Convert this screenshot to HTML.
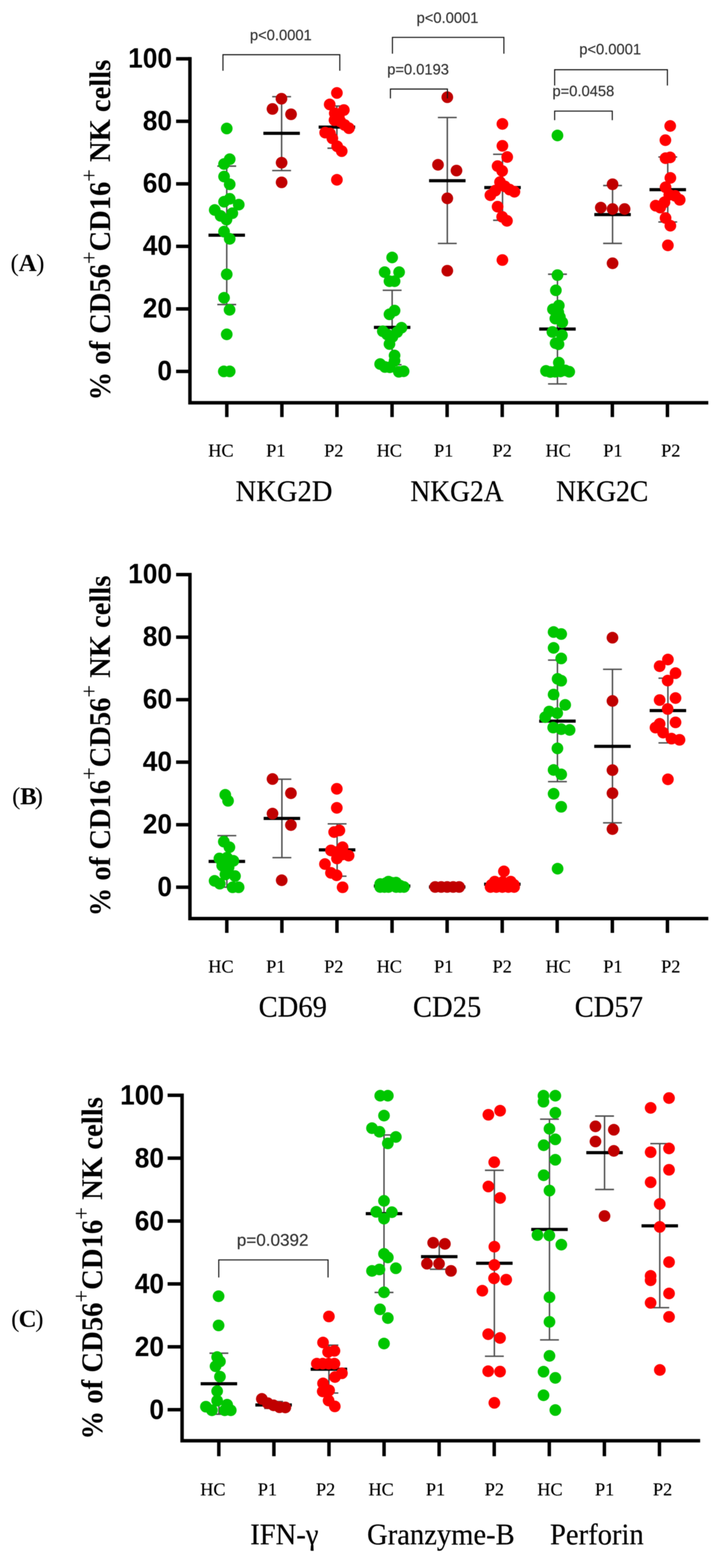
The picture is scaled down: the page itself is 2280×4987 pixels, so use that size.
<!DOCTYPE html>
<html lang="en">
<head>
<meta charset="utf-8">
<title>NK cell receptor and functional marker expression</title>
<style>
html,body{margin:0;padding:0;background:#fff;}
body{width:2280px;height:4987px;overflow:hidden;}
svg{display:block;filter:blur(0.9px);}
text{font-family:"Liberation Sans",Arial,Helvetica,sans-serif;fill:#000;}
.yt{font-weight:bold;font-size:89px;text-anchor:end;}
.ttl{font-family:"Liberation Serif","Times New Roman",serif;font-weight:bold;font-size:95px;}
.sup{font-size:74px;font-weight:normal;}
.pl{font-family:"Liberation Serif","Times New Roman",serif;font-size:79px;font-weight:bold;}
.par{font-weight:normal;}
.xl{font-family:"Liberation Serif","Times New Roman",serif;font-size:58px;text-anchor:middle;fill:#000;stroke:#000;stroke-width:0.5;}
.gl{font-family:"Liberation Serif","Times New Roman",serif;font-size:95px;text-anchor:middle;fill:#000;stroke:#000;stroke-width:0.6;}
.pv{font-size:49px;text-anchor:middle;fill:#333;stroke:#333;stroke-width:0.5;}
.axis{fill:none;stroke:#000;stroke-width:11;stroke-linejoin:miter;}
.tick{fill:none;stroke:#000;stroke-width:11;}
.eb{fill:none;stroke:#505050;stroke-width:4.6;}
.mn{fill:none;stroke:#000;stroke-width:10;}
.br{fill:none;stroke:#151515;stroke-width:3.4;}
</style>
</head>
<body>
<svg width="2280" height="4987" viewBox="0 0 2280 4987" role="img" aria-label="Scatter plots of NK cell receptor, activation marker and effector molecule expression in HC, P1 and P2 groups">
<rect width="2280" height="4987" fill="#fff"/>
<g class="panel">
<g class="grp">
<path class="eb" d="M721 528.4V968.6M691 528.4H751M691 968.6H751"/>
<path class="mn" d="M663 748H779"/>
<g fill="#00c600">
<circle cx="721" cy="408.7" r="18.6"/>
<circle cx="730.4" cy="506.4" r="18.6"/>
<circle cx="712.5" cy="521.6" r="18.6"/>
<circle cx="712.5" cy="561.5" r="18.6"/>
<circle cx="730.4" cy="586.2" r="18.6"/>
<circle cx="730.4" cy="632.3" r="18.6"/>
<circle cx="712.5" cy="641.6" r="18.6"/>
<circle cx="759.2" cy="650.9" r="18.6"/>
<circle cx="682.8" cy="667.9" r="18.6"/>
<circle cx="738.8" cy="678.1" r="18.6"/>
<circle cx="701.5" cy="686.6" r="18.6"/>
<circle cx="720.2" cy="698.5" r="18.6"/>
<circle cx="712.5" cy="736.7" r="18.6"/>
<circle cx="730.4" cy="759.6" r="18.6"/>
<circle cx="721" cy="872.5" r="18.6"/>
<circle cx="712.5" cy="947.2" r="18.6"/>
<circle cx="730" cy="985.4" r="18.6"/>
<circle cx="721" cy="1063.4" r="18.6"/>
<circle cx="711.7" cy="1181.2" r="18.6"/>
<circle cx="730.4" cy="1181.2" r="18.6"/>
</g>
</g>
<g class="grp">
<path class="eb" d="M895.5 307.5V542.5M865.5 307.5H925.5M865.5 542.5H925.5"/>
<path class="mn" d="M837.5 424H953.5"/>
<g fill="#c00000">
<circle cx="895" cy="314" r="18.6"/>
<circle cx="866.5" cy="346.5" r="18.6"/>
<circle cx="925.5" cy="363.5" r="18.6"/>
<circle cx="895.5" cy="517.5" r="18.6"/>
<circle cx="895.5" cy="580" r="18.6"/>
</g>
</g>
<g class="grp">
<path class="eb" d="M1071.3 337.2V471.4M1041.3 337.2H1101.3M1041.3 471.4H1101.3"/>
<path class="mn" d="M1013.3 404.3H1129.3"/>
<g fill="#ff0000">
<circle cx="1071.3" cy="295.7" r="18.6"/>
<circle cx="1048.4" cy="332.2" r="18.6"/>
<circle cx="1093.4" cy="350" r="18.6"/>
<circle cx="1064.5" cy="360.2" r="18.6"/>
<circle cx="1077.3" cy="370.4" r="18.6"/>
<circle cx="1063.7" cy="382.2" r="18.6"/>
<circle cx="1082.4" cy="386.5" r="18.6"/>
<circle cx="1095.9" cy="397.5" r="18.6"/>
<circle cx="1109.5" cy="407.7" r="18.6"/>
<circle cx="1034" cy="421.8" r="18.6"/>
<circle cx="1049.2" cy="424.3" r="18.6"/>
<circle cx="1056.9" cy="440" r="18.6"/>
<circle cx="1072.2" cy="465.4" r="18.6"/>
<circle cx="1086.6" cy="480.7" r="18.6"/>
<circle cx="1071.3" cy="571.9" r="18.6"/>
</g>
</g>
<g class="grp">
<path class="eb" d="M1247 923.3V1160M1217 923.3H1277M1217 1160H1277"/>
<path class="mn" d="M1189 1041.3H1305"/>
<g fill="#00c600">
<circle cx="1247" cy="818.9" r="18.6"/>
<circle cx="1223.2" cy="865.6" r="18.6"/>
<circle cx="1269.1" cy="865.6" r="18.6"/>
<circle cx="1238.5" cy="894.4" r="18.6"/>
<circle cx="1254.7" cy="894.4" r="18.6"/>
<circle cx="1254.7" cy="987.8" r="18.6"/>
<circle cx="1238.5" cy="999.7" r="18.6"/>
<circle cx="1276.7" cy="1042.4" r="18.6"/>
<circle cx="1263.1" cy="1056" r="18.6"/>
<circle cx="1217.3" cy="1053.5" r="18.6"/>
<circle cx="1230.9" cy="1063.7" r="18.6"/>
<circle cx="1247.9" cy="1071.3" r="18.6"/>
<circle cx="1238.5" cy="1094.2" r="18.6"/>
<circle cx="1254.7" cy="1130.7" r="18.6"/>
<circle cx="1254.7" cy="1147.7" r="18.6"/>
<circle cx="1208.8" cy="1157.9" r="18.6"/>
<circle cx="1224.1" cy="1167.2" r="18.6"/>
<circle cx="1239.4" cy="1168.1" r="18.6"/>
<circle cx="1283.5" cy="1180.8" r="18.6"/>
<circle cx="1268.2" cy="1182.5" r="18.6"/>
</g>
</g>
<g class="grp">
<path class="eb" d="M1422.4 373.7V774.2M1392.4 373.7H1452.4M1392.4 774.2H1452.4"/>
<path class="mn" d="M1364.4 574.7H1480.4"/>
<g fill="#c00000">
<circle cx="1422.4" cy="309.2" r="18.6"/>
<circle cx="1392.8" cy="524.1" r="18.6"/>
<circle cx="1451.6" cy="542.5" r="18.6"/>
<circle cx="1422.4" cy="630.8" r="18.6"/>
<circle cx="1422.4" cy="861" r="18.6"/>
</g>
</g>
<g class="grp">
<path class="eb" d="M1598 490.7V700.6M1568 490.7H1628M1568 700.6H1628"/>
<path class="mn" d="M1540 596.4H1656"/>
<g fill="#ff0000">
<circle cx="1597.6" cy="394.1" r="18.6"/>
<circle cx="1597.6" cy="827" r="18.6"/>
<circle cx="1597.6" cy="463.8" r="18.6"/>
<circle cx="1612.9" cy="499.4" r="18.6"/>
<circle cx="1582.3" cy="528.3" r="18.6"/>
<circle cx="1596.8" cy="543.6" r="18.6"/>
<circle cx="1590" cy="579.2" r="18.6"/>
<circle cx="1574.7" cy="606.4" r="18.6"/>
<circle cx="1559.4" cy="620.8" r="18.6"/>
<circle cx="1605.3" cy="592.8" r="18.6"/>
<circle cx="1620.5" cy="603" r="18.6"/>
<circle cx="1635.8" cy="609.8" r="18.6"/>
<circle cx="1582.3" cy="657.3" r="18.6"/>
<circle cx="1596.8" cy="689.6" r="18.6"/>
<circle cx="1612.1" cy="702.3" r="18.6"/>
</g>
</g>
<g class="grp">
<path class="eb" d="M1772.7 872.1V1221M1742.7 872.1H1802.7M1742.7 1221H1802.7"/>
<path class="mn" d="M1714.7 1046.5H1830.7"/>
<g fill="#00c600">
<circle cx="1772.7" cy="430.9" r="18.6"/>
<circle cx="1772.7" cy="875" r="18.6"/>
<circle cx="1767.6" cy="923.4" r="18.6"/>
<circle cx="1777" cy="971.8" r="18.6"/>
<circle cx="1758.3" cy="983.7" r="18.6"/>
<circle cx="1775.3" cy="993" r="18.6"/>
<circle cx="1765.9" cy="1013.4" r="18.6"/>
<circle cx="1780.4" cy="1008.3" r="18.6"/>
<circle cx="1788" cy="1025.2" r="18.6"/>
<circle cx="1756.6" cy="1055.8" r="18.6"/>
<circle cx="1787.1" cy="1066" r="18.6"/>
<circle cx="1766.8" cy="1091.5" r="18.6"/>
<circle cx="1776.1" cy="1094.9" r="18.6"/>
<circle cx="1777" cy="1153.4" r="18.6"/>
<circle cx="1736.2" cy="1179.7" r="18.6"/>
<circle cx="1749.8" cy="1183.1" r="18.6"/>
<circle cx="1765.1" cy="1182.3" r="18.6"/>
<circle cx="1782.1" cy="1181.4" r="18.6"/>
<circle cx="1797.3" cy="1178" r="18.6"/>
<circle cx="1810.1" cy="1182.3" r="18.6"/>
</g>
</g>
<g class="grp">
<path class="eb" d="M1947.9 590.1V774.1M1917.9 590.1H1977.9M1917.9 774.1H1977.9"/>
<path class="mn" d="M1889.9 682.5H2005.9"/>
<g fill="#c00000">
<circle cx="1947.9" cy="586" r="18.6"/>
<circle cx="1910.5" cy="660.4" r="18.6"/>
<circle cx="1947.9" cy="664.8" r="18.6"/>
<circle cx="1986.2" cy="664.8" r="18.6"/>
<circle cx="1947.9" cy="837.3" r="18.6"/>
</g>
</g>
<g class="grp">
<path class="eb" d="M2123.4 499.2V706M2093.4 499.2H2153.4M2093.4 706H2153.4"/>
<path class="mn" d="M2065.4 603.3H2181.4"/>
<g fill="#ff0000">
<circle cx="2131.2" cy="400.6" r="18.6"/>
<circle cx="2115.9" cy="445.8" r="18.6"/>
<circle cx="2123.8" cy="780.3" r="18.6"/>
<circle cx="2116.4" cy="503.1" r="18.6"/>
<circle cx="2130.8" cy="500.6" r="18.6"/>
<circle cx="2131.7" cy="565.9" r="18.6"/>
<circle cx="2116.4" cy="595.6" r="18.6"/>
<circle cx="2128.3" cy="619.4" r="18.6"/>
<circle cx="2146.9" cy="622.8" r="18.6"/>
<circle cx="2161.4" cy="635.5" r="18.6"/>
<circle cx="2113" cy="643.2" r="18.6"/>
<circle cx="2099.4" cy="660.2" r="18.6"/>
<circle cx="2085" cy="654.2" r="18.6"/>
<circle cx="2116.4" cy="693.3" r="18.6"/>
<circle cx="2131.7" cy="717.9" r="18.6"/>
</g>
</g>
<path class="axis" d="M604 181.5V1281H2252.3"/>
<path class="tick" d="M560 187H604M560 385.8H604M560 584.7H604M560 783.5H604M560 982.4H604M560 1181.2H604M721.2 1281V1326.5M896.4 1281V1326.5M1071.5 1281V1326.5M1246.7 1281V1326.5M1421.8 1281V1326.5M1597 1281V1326.5M1771.8 1281V1326.5M1947.2 1281V1326.5M2122.4 1281V1326.5"/>
<text class="yt" transform="translate(547 214.7) scale(0.94 1)">100</text>
<text class="yt" transform="translate(547 413.5) scale(0.94 1)">80</text>
<text class="yt" transform="translate(547 612.4) scale(0.94 1)">60</text>
<text class="yt" transform="translate(547 811.2) scale(0.94 1)">40</text>
<text class="yt" transform="translate(547 1010.1) scale(0.94 1)">20</text>
<text class="yt" transform="translate(547 1208.9) scale(0.94 1)">0</text>
<text class="ttl" transform="translate(349.5 1273.6) rotate(-90) scale(0.956 1)">% of CD56<tspan class="sup" dy="-42">+</tspan><tspan dy="42">CD16</tspan><tspan class="sup" dy="-42">+</tspan><tspan dy="42"> NK cells</tspan></text>
<text class="pl" y="861.9"><tspan class="par" x="33.4">(</tspan><tspan x="59.5">A</tspan><tspan class="par" x="115.1">)</tspan></text>
<text class="xl" x="702.6" y="1451.6">HC</text>
<text class="xl" x="877" y="1451.6">P1</text>
<text class="xl" x="1061.5" y="1451.6">P2</text>
<text class="xl" x="1238" y="1451.6">HC</text>
<text class="xl" x="1411" y="1451.6">P1</text>
<text class="xl" x="1597" y="1451.6">P2</text>
<text class="xl" x="1775" y="1451.6">HC</text>
<text class="xl" x="1949" y="1451.6">P1</text>
<text class="xl" x="2133" y="1451.6">P2</text>
<text class="gl" transform="translate(903 1593.8) scale(0.957 1)">NKG2D</text>
<text class="gl" transform="translate(1453.2 1593.8) scale(0.921 1)">NKG2A</text>
<text class="gl" transform="translate(1915 1593.8) scale(0.927 1)">NKG2C</text>
<path class="br" d="M709 225V174H1080.5V225"/>
<text class="pv" transform="translate(893 127.5) scale(0.955 1)">p&lt;0.0001</text>
<path class="br" d="M1247.9 170.7V118.9H1602.3V170.7"/>
<text class="pv" transform="translate(1423 73.1) scale(0.955 1)">p&lt;0.0001</text>
<path class="br" d="M1241.5 312.9V283.2H1422.8V312.9"/>
<text class="pv" transform="translate(1329.4 236.5) scale(0.955 1)">p=0.0193</text>
<path class="br" d="M1763.7 271.9V221.8H2122.3V271.9"/>
<text class="pv" transform="translate(1940.2 173) scale(0.955 1)">p&lt;0.0001</text>
<path class="br" d="M1763.7 382.3V353.4H1947V382.3"/>
<text class="pv" transform="translate(1855 305.9) scale(0.955 1)">p=0.0458</text>
</g>
<g class="panel">
<g class="grp">
<path class="eb" d="M721.4 2657.7V2821.7M691.4 2657.7H751.4M691.4 2821.7H751.4"/>
<path class="mn" d="M663.4 2739.7H779.4"/>
<g fill="#00c600">
<circle cx="716.3" cy="2527.9" r="18.6"/>
<circle cx="725.2" cy="2547" r="18.6"/>
<circle cx="711.7" cy="2676.8" r="18.6"/>
<circle cx="729.5" cy="2694.6" r="18.6"/>
<circle cx="697.7" cy="2730.3" r="18.6"/>
<circle cx="721.9" cy="2727.8" r="18.6"/>
<circle cx="742.2" cy="2737.9" r="18.6"/>
<circle cx="706.6" cy="2753.2" r="18.6"/>
<circle cx="727" cy="2758.3" r="18.6"/>
<circle cx="716.8" cy="2781.2" r="18.6"/>
<circle cx="747.3" cy="2786.3" r="18.6"/>
<circle cx="682.4" cy="2801.6" r="18.6"/>
<circle cx="698.9" cy="2810.5" r="18.6"/>
<circle cx="739.7" cy="2822" r="18.6"/>
<circle cx="758.8" cy="2822" r="18.6"/>
</g>
</g>
<g class="grp">
<path class="eb" d="M896.4 2478.2V2727.8M866.4 2478.2H926.4M866.4 2727.8H926.4"/>
<path class="mn" d="M838.4 2603H954.4"/>
<g fill="#c00000">
<circle cx="866.6" cy="2477.7" r="18.6"/>
<circle cx="925.1" cy="2522.8" r="18.6"/>
<circle cx="866.6" cy="2587.7" r="18.6"/>
<circle cx="925.1" cy="2624.1" r="18.6"/>
<circle cx="895.8" cy="2799.6" r="18.6"/>
</g>
</g>
<g class="grp">
<path class="eb" d="M1072 2620.3V2786.8M1042 2620.3H1102M1042 2786.8H1102"/>
<path class="mn" d="M1014 2703H1130"/>
<g fill="#ff0000">
<circle cx="1071" cy="2508.8" r="18.6"/>
<circle cx="1071" cy="2569.4" r="18.6"/>
<circle cx="1079.2" cy="2641.2" r="18.6"/>
<circle cx="1062.6" cy="2646.3" r="18.6"/>
<circle cx="1089.4" cy="2694.6" r="18.6"/>
<circle cx="1052.4" cy="2704.8" r="18.6"/>
<circle cx="1071.5" cy="2709.9" r="18.6"/>
<circle cx="1108.5" cy="2721.4" r="18.6"/>
<circle cx="1089.4" cy="2717.6" r="18.6"/>
<circle cx="1071.5" cy="2730.3" r="18.6"/>
<circle cx="1033.3" cy="2748.1" r="18.6"/>
<circle cx="1052.4" cy="2776.1" r="18.6"/>
<circle cx="1070.3" cy="2783.8" r="18.6"/>
<circle cx="1089.4" cy="2822" r="18.6"/>
</g>
</g>
<g class="grp">
<path class="mn" d="M1188.8 2818H1304.8"/>
<g fill="#00c600">
<circle cx="1209.1" cy="2811.7" r="18.6"/>
<circle cx="1209.1" cy="2821.1" r="18.6"/>
<circle cx="1222.6" cy="2821.1" r="18.6"/>
<circle cx="1235.3" cy="2804" r="18.6"/>
<circle cx="1235.3" cy="2821.1" r="18.6"/>
<circle cx="1248" cy="2816.8" r="18.6"/>
<circle cx="1259.5" cy="2807.1" r="18.6"/>
<circle cx="1259.5" cy="2821.1" r="18.6"/>
<circle cx="1272.2" cy="2816.8" r="18.6"/>
<circle cx="1284.5" cy="2821.1" r="18.6"/>
<circle cx="1226.4" cy="2809.1" r="18.6"/>
<circle cx="1246.8" cy="2807.9" r="18.6"/>
<circle cx="1272.2" cy="2821.1" r="18.6"/>
</g>
</g>
<g class="grp">
<path class="mn" d="M1364 2821H1480"/>
<g fill="#c00000">
<circle cx="1383.8" cy="2821" r="18.6"/>
<circle cx="1403" cy="2821" r="18.6"/>
<circle cx="1422" cy="2821" r="18.6"/>
<circle cx="1441" cy="2821" r="18.6"/>
<circle cx="1460" cy="2821" r="18.6"/>
</g>
</g>
<g class="grp">
<path class="mn" d="M1539.4 2812.2H1655.4"/>
<g fill="#ff0000">
<circle cx="1559.9" cy="2821.1" r="18.6"/>
<circle cx="1578.3" cy="2821.1" r="18.6"/>
<circle cx="1597.4" cy="2821.1" r="18.6"/>
<circle cx="1616.5" cy="2821.1" r="18.6"/>
<circle cx="1634.8" cy="2821.1" r="18.6"/>
<circle cx="1573.2" cy="2804" r="18.6"/>
<circle cx="1624.1" cy="2804" r="18.6"/>
<circle cx="1563" cy="2814.2" r="18.6"/>
<circle cx="1634.3" cy="2814.2" r="18.6"/>
<circle cx="1598.6" cy="2805.3" r="18.6"/>
<circle cx="1602.4" cy="2771.4" r="18.6"/>
</g>
</g>
<g class="grp">
<path class="eb" d="M1772.6 2099.5V2486M1742.6 2099.5H1802.6M1742.6 2486H1802.6"/>
<path class="mn" d="M1714.6 2293.6H1830.6"/>
<g fill="#00c600">
<circle cx="1760.4" cy="2010.2" r="18.6"/>
<circle cx="1784.6" cy="2016.5" r="18.6"/>
<circle cx="1760.4" cy="2060.6" r="18.6"/>
<circle cx="1784.6" cy="2094.2" r="18.6"/>
<circle cx="1773.1" cy="2159.1" r="18.6"/>
<circle cx="1784.6" cy="2165" r="18.6"/>
<circle cx="1760.4" cy="2209" r="18.6"/>
<circle cx="1797.3" cy="2241.9" r="18.6"/>
<circle cx="1746.4" cy="2263" r="18.6"/>
<circle cx="1771.9" cy="2268.1" r="18.6"/>
<circle cx="1733.7" cy="2280.9" r="18.6"/>
<circle cx="1759.1" cy="2314" r="18.6"/>
<circle cx="1784.6" cy="2319.1" r="18.6"/>
<circle cx="1811.3" cy="2321.6" r="18.6"/>
<circle cx="1772.6" cy="2380.2" r="18.6"/>
<circle cx="1760.4" cy="2448.9" r="18.6"/>
<circle cx="1784.6" cy="2462.9" r="18.6"/>
<circle cx="1760.4" cy="2524.6" r="18.6"/>
<circle cx="1784.6" cy="2566" r="18.6"/>
<circle cx="1773.1" cy="2762.9" r="18.6"/>
</g>
</g>
<g class="grp">
<path class="eb" d="M1947.6 2128.8V2617M1917.6 2128.8H1977.6M1917.6 2617H1977.6"/>
<path class="mn" d="M1889.6 2373.8H2005.6"/>
<g fill="#c00000">
<circle cx="1947.6" cy="2028.2" r="18.6"/>
<circle cx="1947.6" cy="2229.4" r="18.6"/>
<circle cx="1947.6" cy="2449.4" r="18.6"/>
<circle cx="1947.6" cy="2522.8" r="18.6"/>
<circle cx="1947.6" cy="2636.8" r="18.6"/>
</g>
</g>
<g class="grp">
<path class="eb" d="M2123.9 2157V2362.7M2093.9 2157H2153.9M2093.9 2362.7H2153.9"/>
<path class="mn" d="M2065.9 2260.1H2181.9"/>
<g fill="#ff0000">
<circle cx="2123.9" cy="2097.6" r="18.6"/>
<circle cx="2097.6" cy="2118.8" r="18.6"/>
<circle cx="2148.1" cy="2140.9" r="18.6"/>
<circle cx="2123.1" cy="2164.6" r="18.6"/>
<circle cx="2097.6" cy="2226.5" r="18.6"/>
<circle cx="2148.1" cy="2220.1" r="18.6"/>
<circle cx="2123.1" cy="2255" r="18.6"/>
<circle cx="2148.1" cy="2297.5" r="18.6"/>
<circle cx="2097.6" cy="2302.1" r="18.6"/>
<circle cx="2084.4" cy="2314.1" r="18.6"/>
<circle cx="2108.6" cy="2330.1" r="18.6"/>
<circle cx="2135.3" cy="2349.2" r="18.6"/>
<circle cx="2160.8" cy="2353" r="18.6"/>
<circle cx="2123.9" cy="2478.6" r="18.6"/>
</g>
</g>
<path class="axis" d="M604 1822.1V2921.6H2252.3"/>
<path class="tick" d="M560 1827.6H604M560 2026.4H604M560 2225.3H604M560 2424.1H604M560 2623H604M560 2821.8H604M721.2 2921.6V2967.1M896.4 2921.6V2967.1M1071.5 2921.6V2967.1M1246.7 2921.6V2967.1M1421.8 2921.6V2967.1M1597 2921.6V2967.1M1771.8 2921.6V2967.1M1947.2 2921.6V2967.1M2122.4 2921.6V2967.1"/>
<text class="yt" transform="translate(547 1855.3) scale(0.94 1)">100</text>
<text class="yt" transform="translate(547 2054.1) scale(0.94 1)">80</text>
<text class="yt" transform="translate(547 2253) scale(0.94 1)">60</text>
<text class="yt" transform="translate(547 2451.8) scale(0.94 1)">40</text>
<text class="yt" transform="translate(547 2650.7) scale(0.94 1)">20</text>
<text class="yt" transform="translate(547 2849.5) scale(0.94 1)">0</text>
<text class="ttl" transform="translate(349.5 2914.2) rotate(-90) scale(0.956 1)">% of CD16<tspan class="sup" dy="-42">+</tspan><tspan dy="42">CD56</tspan><tspan class="sup" dy="-42">+</tspan><tspan dy="42"> NK cells</tspan></text>
<text class="pl" y="2557.6"><tspan class="par" x="38.5">(</tspan><tspan x="64">B</tspan><tspan class="par" x="110.3">)</tspan></text>
<text class="xl" x="702.6" y="3092.6">HC</text>
<text class="xl" x="877" y="3092.6">P1</text>
<text class="xl" x="1061.5" y="3092.6">P2</text>
<text class="xl" x="1238" y="3092.6">HC</text>
<text class="xl" x="1411" y="3092.6">P1</text>
<text class="xl" x="1597" y="3092.6">P2</text>
<text class="xl" x="1775" y="3092.6">HC</text>
<text class="xl" x="1949" y="3092.6">P1</text>
<text class="xl" x="2133" y="3092.6">P2</text>
<text class="gl" transform="translate(931 3234.4) scale(0.957 1)">CD69</text>
<text class="gl" transform="translate(1421.8 3234.4) scale(0.957 1)">CD25</text>
<text class="gl" transform="translate(1936 3234.4) scale(0.957 1)">CD57</text>
</g>
<g class="panel">
<g class="grp">
<path class="eb" d="M696.1 4303.9V4497.9M666.1 4303.9H726.1M666.1 4497.9H726.1"/>
<path class="mn" d="M638.1 4400.9H754.1"/>
<g fill="#00c600">
<circle cx="695.1" cy="4122.6" r="18.6"/>
<circle cx="695.1" cy="4215.5" r="18.6"/>
<circle cx="690.5" cy="4316.1" r="18.6"/>
<circle cx="699.4" cy="4330.1" r="18.6"/>
<circle cx="685.4" cy="4345.4" r="18.6"/>
<circle cx="699.4" cy="4378.5" r="18.6"/>
<circle cx="690.5" cy="4424.3" r="18.6"/>
<circle cx="690.5" cy="4454.9" r="18.6"/>
<circle cx="722.3" cy="4467.6" r="18.6"/>
<circle cx="654.8" cy="4474" r="18.6"/>
<circle cx="673.9" cy="4485.4" r="18.6"/>
<circle cx="714.7" cy="4485.4" r="18.6"/>
<circle cx="733.8" cy="4485.4" r="18.6"/>
</g>
</g>
<g class="grp">
<path class="eb" d="M870 4457.5V4479.5M840 4457.5H900M840 4479.5H900"/>
<path class="mn" d="M812 4468.5H928"/>
<g fill="#c00000">
<circle cx="832.6" cy="4449.2" r="18.6"/>
<circle cx="851.3" cy="4462.8" r="18.6"/>
<circle cx="870" cy="4469.6" r="18.6"/>
<circle cx="888.7" cy="4475.7" r="18.6"/>
<circle cx="907.3" cy="4476.3" r="18.6"/>
</g>
</g>
<g class="grp">
<path class="eb" d="M1045.9 4278.4V4430.5M1015.9 4278.4H1075.9M1015.9 4430.5H1075.9"/>
<path class="mn" d="M987.9 4354.8H1103.9"/>
<g fill="#ff0000">
<circle cx="1045.9" cy="4187" r="18.6"/>
<circle cx="1027.2" cy="4269.9" r="18.6"/>
<circle cx="1063.5" cy="4296.4" r="18.6"/>
<circle cx="1043.2" cy="4299.8" r="18.6"/>
<circle cx="1007.5" cy="4337.1" r="18.6"/>
<circle cx="1026.2" cy="4337.1" r="18.6"/>
<circle cx="1044.9" cy="4337.1" r="18.6"/>
<circle cx="1063.5" cy="4337.1" r="18.6"/>
<circle cx="1087.3" cy="4367.7" r="18.6"/>
<circle cx="1065.2" cy="4379.6" r="18.6"/>
<circle cx="1027.2" cy="4399.9" r="18.6"/>
<circle cx="1026.2" cy="4425.4" r="18.6"/>
<circle cx="1046.6" cy="4422" r="18.6"/>
<circle cx="1044.9" cy="4454.3" r="18.6"/>
<circle cx="1064.6" cy="4473" r="18.6"/>
</g>
</g>
<g class="grp">
<path class="eb" d="M1221.1 3609.7V4110.6M1191.1 3609.7H1251.1M1191.1 4110.6H1251.1"/>
<path class="mn" d="M1163.1 3860H1279.1"/>
<g fill="#00c600">
<circle cx="1209.1" cy="3484.9" r="18.6"/>
<circle cx="1233.3" cy="3484.9" r="18.6"/>
<circle cx="1221.1" cy="3548.1" r="18.6"/>
<circle cx="1182.9" cy="3588.1" r="18.6"/>
<circle cx="1206.6" cy="3599.5" r="18.6"/>
<circle cx="1258.8" cy="3616.1" r="18.6"/>
<circle cx="1233.3" cy="3636.5" r="18.6"/>
<circle cx="1221.1" cy="3819.3" r="18.6"/>
<circle cx="1196.4" cy="3854.2" r="18.6"/>
<circle cx="1246.1" cy="3855.4" r="18.6"/>
<circle cx="1221.1" cy="3875.8" r="18.6"/>
<circle cx="1221.1" cy="3987.9" r="18.6"/>
<circle cx="1233.3" cy="3999.3" r="18.6"/>
<circle cx="1182.9" cy="4042.1" r="18.6"/>
<circle cx="1206.6" cy="4037.5" r="18.6"/>
<circle cx="1258.8" cy="4033.7" r="18.6"/>
<circle cx="1221.1" cy="4110.1" r="18.6"/>
<circle cx="1208.4" cy="4164.3" r="18.6"/>
<circle cx="1233.3" cy="4192.1" r="18.6"/>
<circle cx="1221.1" cy="4273.1" r="18.6"/>
</g>
</g>
<g class="grp">
<path class="eb" d="M1396.8 3956.7V4036.9M1366.8 3956.7H1426.8M1366.8 4036.9H1426.8"/>
<path class="mn" d="M1338.8 3996.8H1454.8"/>
<g fill="#c00000">
<circle cx="1377.4" cy="3952.7" r="18.6"/>
<circle cx="1414.8" cy="3956.1" r="18.6"/>
<circle cx="1357.7" cy="4019.2" r="18.6"/>
<circle cx="1396.1" cy="4019.2" r="18.6"/>
<circle cx="1434.1" cy="4042" r="18.6"/>
</g>
</g>
<g class="grp">
<path class="eb" d="M1572 3722.1V4313.5M1542 3722.1H1602M1542 4313.5H1602"/>
<path class="mn" d="M1514 4017.8H1630"/>
<g fill="#ff0000">
<circle cx="1553" cy="3545.5" r="18.6"/>
<circle cx="1590.3" cy="3532.6" r="18.6"/>
<circle cx="1571.6" cy="3696.3" r="18.6"/>
<circle cx="1553" cy="3773.7" r="18.6"/>
<circle cx="1590.3" cy="3810.1" r="18.6"/>
<circle cx="1572" cy="3965.1" r="18.6"/>
<circle cx="1572" cy="4023.2" r="18.6"/>
<circle cx="1571" cy="4065.7" r="18.6"/>
<circle cx="1609.7" cy="4070" r="18.6"/>
<circle cx="1533.8" cy="4105.1" r="18.6"/>
<circle cx="1552.4" cy="4243.4" r="18.6"/>
<circle cx="1590.1" cy="4255.4" r="18.6"/>
<circle cx="1552.4" cy="4361.1" r="18.6"/>
<circle cx="1590.1" cy="4362.3" r="18.6"/>
<circle cx="1572" cy="4461.7" r="18.6"/>
</g>
</g>
<g class="grp">
<path class="eb" d="M1747.3 3559.5V4261.5M1717.3 3559.5H1777.3M1717.3 4261.5H1777.3"/>
<path class="mn" d="M1689.3 3910.2H1805.3"/>
<g fill="#00c600">
<circle cx="1728.2" cy="3484.9" r="18.6"/>
<circle cx="1765.9" cy="3484.9" r="18.6"/>
<circle cx="1728.2" cy="3504" r="18.6"/>
<circle cx="1765.9" cy="3539.2" r="18.6"/>
<circle cx="1747.3" cy="3590.1" r="18.6"/>
<circle cx="1765.9" cy="3623.7" r="18.6"/>
<circle cx="1728.9" cy="3642.3" r="18.6"/>
<circle cx="1765.9" cy="3688.7" r="18.6"/>
<circle cx="1728.9" cy="3737.8" r="18.6"/>
<circle cx="1747.3" cy="3786.7" r="18.6"/>
<circle cx="1709.1" cy="3928" r="18.6"/>
<circle cx="1746.8" cy="3929.3" r="18.6"/>
<circle cx="1785" cy="3958.6" r="18.6"/>
<circle cx="1747.3" cy="4125.9" r="18.6"/>
<circle cx="1747.3" cy="4204.1" r="18.6"/>
<circle cx="1747.3" cy="4312.3" r="18.6"/>
<circle cx="1728.4" cy="4362.7" r="18.6"/>
<circle cx="1765.9" cy="4382.3" r="18.6"/>
<circle cx="1728.4" cy="4437.6" r="18.6"/>
<circle cx="1765.9" cy="4484.7" r="18.6"/>
</g>
</g>
<g class="grp">
<path class="eb" d="M1922.4 3549.6V3783.1M1892.4 3549.6H1952.4M1892.4 3783.1H1952.4"/>
<path class="mn" d="M1864.4 3666H1980.4"/>
<g fill="#c00000">
<circle cx="1893.5" cy="3582.3" r="18.6"/>
<circle cx="1951.9" cy="3593.2" r="18.6"/>
<circle cx="1893.5" cy="3630.5" r="18.6"/>
<circle cx="1951.9" cy="3660.4" r="18.6"/>
<circle cx="1922.3" cy="3867.5" r="18.6"/>
</g>
</g>
<g class="grp">
<path class="eb" d="M2098 3637.3V4159M2068 3637.3H2128M2068 4159H2128"/>
<path class="mn" d="M2040 3898.8H2156"/>
<g fill="#ff0000">
<circle cx="2127.4" cy="3492.3" r="18.6"/>
<circle cx="2069" cy="3523.6" r="18.6"/>
<circle cx="2127.4" cy="3652.6" r="18.6"/>
<circle cx="2069" cy="3664.5" r="18.6"/>
<circle cx="2127.4" cy="3720.5" r="18.6"/>
<circle cx="2069" cy="3760.2" r="18.6"/>
<circle cx="2097.9" cy="3829.2" r="18.6"/>
<circle cx="2097.9" cy="3902.2" r="18.6"/>
<circle cx="2127.5" cy="4014.1" r="18.6"/>
<circle cx="2068.9" cy="4057.9" r="18.6"/>
<circle cx="2068.9" cy="4071.9" r="18.6"/>
<circle cx="2127.5" cy="4113.9" r="18.6"/>
<circle cx="2068.9" cy="4143.7" r="18.6"/>
<circle cx="2127.5" cy="4188.3" r="18.6"/>
<circle cx="2098.2" cy="4357.1" r="18.6"/>
</g>
</g>
<path class="axis" d="M579 3477.9V4582.2H2226.4"/>
<path class="tick" d="M533 3483.4H579M533 3683.4H579M533 3883.4H579M533 4083.4H579M533 4283.4H579M533 4483.4H579M695.8 4582.2V4631.5M871 4582.2V4631.5M1046.1 4582.2V4631.5M1221.3 4582.2V4631.5M1396.4 4582.2V4631.5M1571.6 4582.2V4631.5M1746.7 4582.2V4631.5M1921.9 4582.2V4631.5M2097 4582.2V4631.5"/>
<text class="yt" transform="translate(521.5 3513.3) scale(0.94 1)">100</text>
<text class="yt" transform="translate(521.5 3713.3) scale(0.94 1)">80</text>
<text class="yt" transform="translate(521.5 3913.3) scale(0.94 1)">60</text>
<text class="yt" transform="translate(521.5 4113.3) scale(0.94 1)">40</text>
<text class="yt" transform="translate(521.5 4313.3) scale(0.94 1)">20</text>
<text class="yt" transform="translate(521.5 4513.3) scale(0.94 1)">0</text>
<text class="ttl" transform="translate(324.6 4578.6) rotate(-90) scale(0.961 1)">% of CD56<tspan class="sup" dy="-42">+</tspan><tspan dy="42">CD16</tspan><tspan class="sup" dy="-42">+</tspan><tspan dy="42"> NK cells</tspan></text>
<text class="pl" y="4219.5"><tspan class="par" x="35.4">(</tspan><tspan x="59.2">C</tspan><tspan class="par" x="112">)</tspan></text>
<text class="xl" x="677" y="4756.4">HC</text>
<text class="xl" x="850.5" y="4756.4">P1</text>
<text class="xl" x="1035.5" y="4756.4">P2</text>
<text class="xl" x="1212" y="4756.4">HC</text>
<text class="xl" x="1385" y="4756.4">P1</text>
<text class="xl" x="1572" y="4756.4">P2</text>
<text class="xl" x="1748.8" y="4756.4">HC</text>
<text class="xl" x="1922.7" y="4756.4">P1</text>
<text class="xl" x="2107" y="4756.4">P2</text>
<text class="gl" transform="translate(904.2 4911.5) scale(0.957 1)">IFN-γ</text>
<text class="gl" transform="translate(1402 4911.5) scale(0.957 1)">Granzyme-B</text>
<text class="gl" transform="translate(1898 4911.5) scale(0.957 1)">Perforin</text>
<path class="br" d="M695.6 4063.1V4007.1H1043.2V4063.1"/>
<text class="pv" style="font-size:53.5px" transform="translate(867 3961.8) scale(1.015 1)">p=0.0392</text>
</g>
</svg>
</body>
</html>
